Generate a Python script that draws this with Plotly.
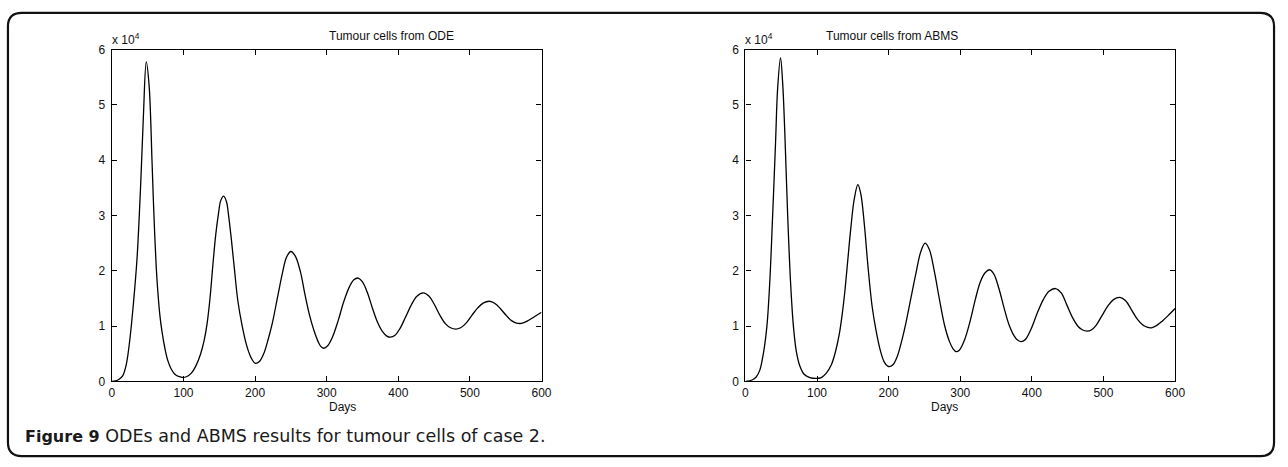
"""
plot.py - Células tumorales: ODE vs ABMS (caso 2)
"""

import plotly.graph_objects as go

W, H = 1288, 467

# Datos (células tumorales en unidades de 10^4)
days_ode = [0, 5, 10, 15, 20, 25, 30, 35, 40, 44, 48, 52, 56, 58, 60, 62, 64, 67, 70, 74,
            78, 83, 88, 93, 98, 104, 111, 118, 124, 129, 133, 137, 141, 145, 149, 152, 156,
            160, 163, 167, 171, 176, 182, 188, 194, 200, 206, 212, 218, 224, 231, 238, 244,
            250, 256, 263, 270, 276, 282, 288, 292, 296, 301, 308, 316, 324, 332, 338, 344,
            350, 357, 364, 371, 378, 384, 389, 395, 402, 410, 418, 426, 435, 443, 450,
            458, 466, 473, 480, 487, 495, 503, 511, 519, 527, 535, 543, 551, 558, 565,
            572, 580, 590, 600]
cells_ode = [0.0, 0.01, 0.04, 0.1, 0.3, 0.75, 1.4, 2.2, 3.5, 4.8, 5.78, 5.35, 4.0, 3.25,
             2.6, 2.05, 1.65, 1.2, 0.9, 0.6, 0.38, 0.22, 0.13, 0.09, 0.075, 0.085, 0.15,
             0.3, 0.5, 0.75, 1.05, 1.5, 2.1, 2.65, 3.05, 3.27, 3.35, 3.25, 3.0, 2.55, 2.05,
             1.45, 1.0, 0.66, 0.44, 0.33, 0.36, 0.5, 0.75, 1.05, 1.5, 1.95, 2.25, 2.35,
             2.27, 2.0, 1.55, 1.2, 0.93, 0.72, 0.63, 0.6, 0.64, 0.8, 1.1, 1.45, 1.72, 1.84,
             1.87, 1.8, 1.6, 1.32, 1.07, 0.9, 0.82, 0.8, 0.83, 0.95, 1.16, 1.38, 1.54, 1.6,
             1.54, 1.4, 1.2, 1.04, 0.97, 0.945, 0.97, 1.06, 1.2, 1.33, 1.42, 1.45, 1.41,
             1.31, 1.19, 1.1, 1.055, 1.05, 1.09, 1.17, 1.25]

days_abms = [0, 5, 10, 15, 20, 25, 30, 34, 38, 42, 45, 49, 52, 55, 59, 63, 67, 71, 76, 82,
             90, 99, 106, 113, 120, 126, 131, 135, 139, 143, 147, 152, 157, 161, 166, 171,
             177, 182, 188, 194, 200, 206, 212, 218, 224, 231, 238, 245, 251, 257, 264,
             271, 278, 285, 290, 294, 299, 306, 314, 321, 328, 335, 341, 347, 354, 361,
             368, 375, 380, 385, 391, 399, 408, 416, 424, 433, 441, 449, 457, 465, 471,
             477, 483, 490, 498, 506, 514, 523, 531, 539, 547, 555, 561, 567, 574, 582,
             591, 600]
cells_abms = [0.0, 0.01, 0.03, 0.08, 0.2, 0.5, 1.0, 1.8, 3.0, 4.3, 5.3, 5.85, 5.4, 4.5, 3.0,
              1.8, 1.0, 0.55, 0.28, 0.13, 0.07, 0.055, 0.07, 0.15, 0.3, 0.55, 0.85, 1.2,
              1.65, 2.2, 2.75, 3.3, 3.56, 3.4, 2.85, 2.1, 1.35, 0.95, 0.58, 0.35, 0.27, 0.3,
              0.45, 0.72, 1.05, 1.5, 1.95, 2.35, 2.5, 2.38, 1.98, 1.48, 1.02, 0.72, 0.59,
              0.54, 0.57, 0.75, 1.1, 1.48, 1.8, 1.97, 2.02, 1.94, 1.68, 1.34, 1.03, 0.83,
              0.75, 0.72, 0.76, 0.95, 1.25, 1.48, 1.63, 1.68, 1.6, 1.38, 1.15, 0.99, 0.93,
              0.91, 0.93, 1.02, 1.19, 1.36, 1.48, 1.52, 1.46, 1.3, 1.13, 1.02, 0.98, 0.97,
              1.01, 1.09, 1.2, 1.32]

x_ticks = [0, 100, 200, 300, 400, 500, 600]
y_ticks = [0, 1, 2, 3, 4, 5, 6]

titles = ['Tumour cells from ODE', 'Tumour cells from ABMS']
caption = ('<span style="font-size:16px"><b>Figure 9</b></span>'
           ' ODEs and ABMS results for tumour cells of case 2.')

AX_FONT = dict(family='Arial, Liberation Sans, sans-serif', size=12, color='#111')


def px_x(p):
    return p / W


def px_y(p):
    return 1 - p / H


def axis_style(rng, ticks):
    return dict(
        range=rng, tickvals=ticks, ticks='inside', ticklen=5, tickwidth=1,
        tickcolor='#000', showline=True, linecolor='#000', linewidth=1.4,
        mirror='ticks', showgrid=False, zeroline=False, tickfont=AX_FONT,
    )


def rounded_box(x0, y0, x1, y1, r):
    # rectángulo redondeado en coordenadas de papel
    rx, ry = r / W, r / H
    X0, X1, Y0, Y1 = px_x(x0), px_x(x1), px_y(y0), px_y(y1)
    return (f'M {X0 + rx} {Y0} L {X1 - rx} {Y0} Q {X1} {Y0} {X1} {Y0 - ry} '
            f'L {X1} {Y1 + ry} Q {X1} {Y1} {X1 - rx} {Y1} '
            f'L {X0 + rx} {Y1} Q {X0} {Y1} {X0} {Y1 + ry} '
            f'L {X0} {Y0 - ry} Q {X0} {Y0} {X0 + rx} {Y0} Z')


line_style = dict(color='#000', width=1.3, shape='spline', smoothing=1.0)

fig = go.Figure()
fig.add_trace(go.Scatter(x=days_ode, y=cells_ode, mode='lines', line=line_style,
                         xaxis='x', yaxis='y', showlegend=False))
fig.add_trace(go.Scatter(x=days_abms, y=cells_abms, mode='lines', line=line_style,
                         xaxis='x2', yaxis='y2', showlegend=False))

left_dom = [px_x(110), px_x(544)]
right_dom = [px_x(750), px_x(1184)]
y_dom = [px_y(386), px_y(44)]

annotations = []
for dom, title in zip([left_dom, right_dom], titles):
    mid = (dom[0] + dom[1]) / 2
    annotations.append(dict(x=mid, y=px_y(30), text=title, showarrow=False,
                            xref='paper', yref='paper', yanchor='middle',
                            font=AX_FONT))
    annotations.append(dict(x=mid, y=px_y(412), text='Days', showarrow=False,
                            xref='paper', yref='paper', yanchor='middle',
                            font=AX_FONT))
    annotations.append(dict(x=dom[0], y=px_y(44), text='x 10<sup>4</sup>',
                            showarrow=False, xref='paper', yref='paper',
                            xanchor='left', yanchor='bottom', xshift=-2, yshift=1,
                            font=AX_FONT))
annotations.append(dict(x=px_x(20), y=px_y(442), text=caption, showarrow=False,
                        xref='paper', yref='paper', xanchor='left', yanchor='middle',
                        font=dict(family='DejaVu Sans, sans-serif', size=17.5,
                                  color='#1a1a1a')))

fig.update_layout(
    width=W, height=H,
    margin=dict(l=0, r=0, t=0, b=0),
    paper_bgcolor='white', plot_bgcolor='white',
    xaxis=dict(domain=left_dom, anchor='y', **axis_style([0, 600], x_ticks)),
    yaxis=dict(domain=y_dom, anchor='x', ticklabelstandoff=3, **axis_style([0, 6], y_ticks)),
    xaxis2=dict(domain=right_dom, anchor='y2', **axis_style([0, 600], x_ticks)),
    yaxis2=dict(domain=y_dom, anchor='x2', ticklabelstandoff=3, **axis_style([0, 6], y_ticks)),
    annotations=annotations,
    shapes=[dict(type='path', xref='paper', yref='paper',
                 path=rounded_box(5, 6, 1284, 463, 14),
                 line=dict(color='#111', width=2.2))],
)

# sin margen ni barras de desplazamiento para que la figura ocupe la ventana
page_js = ("document.body.style.margin='0';"
           "document.body.style.overflow='hidden';"
           "document.documentElement.style.overflow='hidden';")
fig.write_html("out.html", config={'displayModeBar': False}, post_script=page_js)
